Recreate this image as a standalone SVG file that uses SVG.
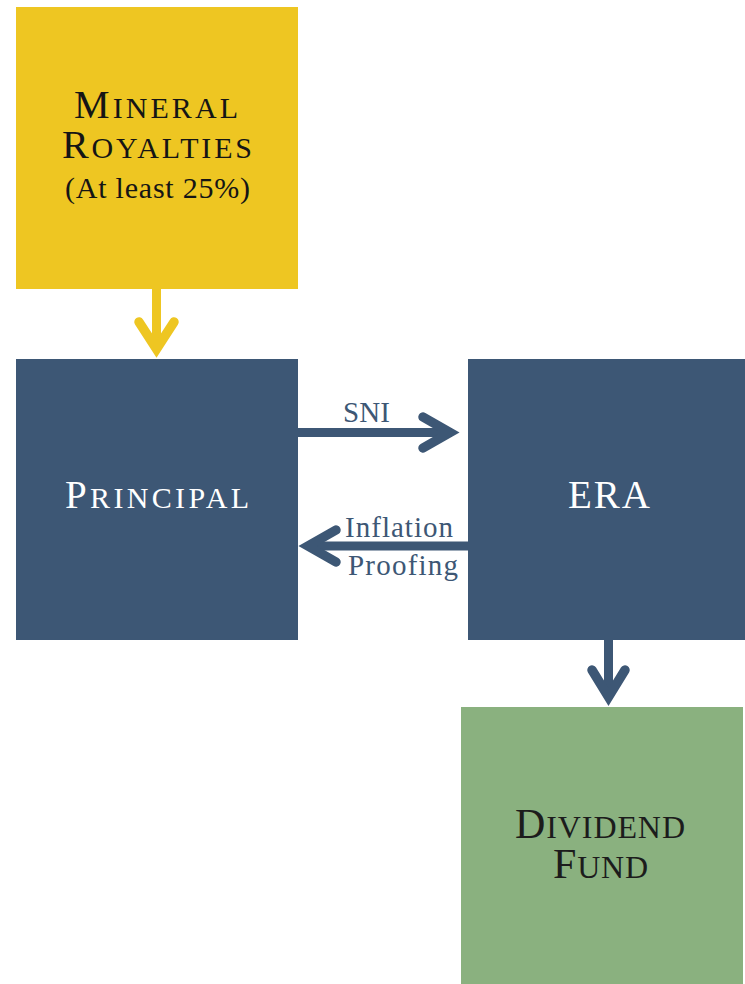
<svg xmlns="http://www.w3.org/2000/svg" width="745" height="984" viewBox="0 0 745 984">
<style>
  .t { font-family: "Liberation Serif", "DejaVu Serif", serif; }
  .dark { fill: #151515; }
  .light { fill: #ffffff; }
  .lbl { font-family: "Liberation Serif", "DejaVu Serif", serif; font-size: 29px; fill: #3D5775; }
  .arrowY { stroke: #EEC622; stroke-width: 9.5; fill: none; stroke-linecap: round; stroke-linejoin: miter; }
  .arrowB { stroke: #3D5775; stroke-width: 9.5; fill: none; stroke-linecap: round; stroke-linejoin: miter; }
  .shaftY { stroke: #EEC622; stroke-width: 9; fill: none; }
  .shaftB { stroke: #3D5775; stroke-width: 9; fill: none; }
</style>
<rect width="745" height="984" fill="#ffffff"/>

<g id="mineral-royalties">
  <rect x="16" y="7" width="282" height="282" fill="#EEC622"/>
  <text class="t dark" x="74" y="118" textLength="164" lengthAdjust="spacing"><tspan font-size="40">M</tspan><tspan font-size="30">INERAL</tspan></text>
  <text class="t dark" x="62" y="158" textLength="190" lengthAdjust="spacing"><tspan font-size="40">R</tspan><tspan font-size="30">OYALTIES</tspan></text>
  <text class="t dark" x="65" y="198" font-size="30" textLength="185" lengthAdjust="spacing">(At least 25%)</text>
</g>

<g id="principal">
  <rect x="16" y="359" width="282" height="281" fill="#3D5775"/>
  <text class="t light" x="65" y="508" textLength="184" lengthAdjust="spacing"><tspan font-size="39">P</tspan><tspan font-size="30">RINCIPAL</tspan></text>
</g>

<g id="era">
  <rect x="468" y="359" width="277" height="281" fill="#3D5775"/>
  <text class="t light" x="568" y="508" font-size="39" textLength="82" lengthAdjust="spacing">ERA</text>
</g>

<g id="dividend-fund">
  <rect x="461" y="707" width="282" height="277" fill="#8AB17F"/>
  <text class="t" fill="#1c1c1c" x="515" y="838" textLength="170" lengthAdjust="spacing"><tspan font-size="42">D</tspan><tspan font-size="32">IVIDEND</tspan></text>
  <text class="t" fill="#1c1c1c" x="553" y="878" textLength="95" lengthAdjust="spacing"><tspan font-size="42">F</tspan><tspan font-size="32">UND</tspan></text>
</g>

<g id="connectors">
  <!-- Mineral Royalties -> Principal -->
  <line class="shaftY" x1="156.5" y1="289" x2="156.5" y2="348"/>
  <path class="arrowY" d="M139 322 L156.5 349 L174 322"/>

  <!-- Principal -> ERA (SNI) -->
  <line class="shaftB" x1="298" y1="432.5" x2="450" y2="432.5"/>
  <path class="arrowB" d="M423 417 L450 432.5 L423 448"/>
  <text class="lbl" x="343" y="422" textLength="47" lengthAdjust="spacing">SNI</text>

  <!-- ERA -> Principal (Inflation Proofing) -->
  <line class="shaftB" x1="468" y1="546" x2="309" y2="546"/>
  <path class="arrowB" d="M336 530 L308 546 L336 562"/>
  <text class="lbl" x="345" y="537" textLength="108" lengthAdjust="spacing">Inflation</text>
  <text class="lbl" x="348" y="575" textLength="110" lengthAdjust="spacing">Proofing</text>

  <!-- ERA -> Dividend Fund -->
  <line class="shaftB" x1="608.5" y1="640" x2="608.5" y2="697"/>
  <path class="arrowB" d="M592 670 L608.5 697 L625 670"/>
</g>
</svg>
